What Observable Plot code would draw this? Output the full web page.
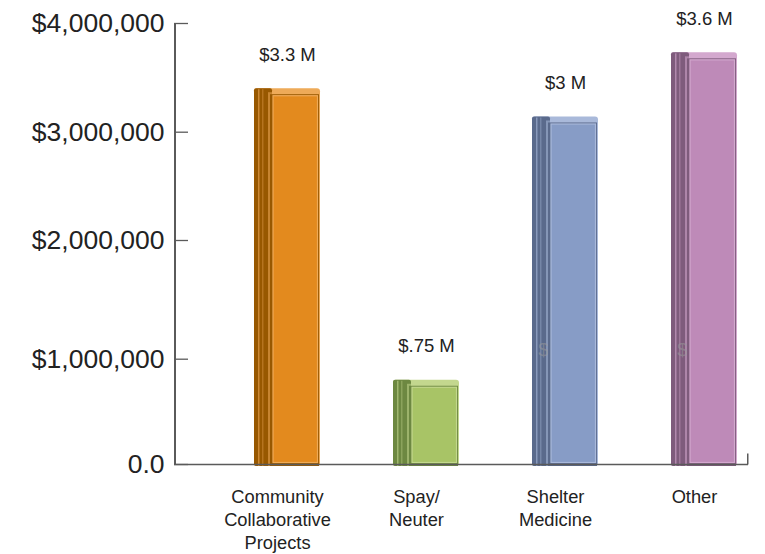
<!DOCTYPE html>
<html>
<head>
<meta charset="utf-8">
<script src="https://cdn.jsdelivr.net/npm/d3@7"></script>
<script src="https://cdn.jsdelivr.net/npm/@observablehq/plot@0.6"></script>
<style>
  html, body { margin: 0; padding: 0; background: #fff; }
</style>
</head>
<body>
<div id="chart"></div>
<script>
// ---- data ----
const categories = ["Community Collaborative Projects", "Spay/Neuter", "Shelter Medicine", "Other"];
const categoryLabels = ["Community\nCollaborative\nProjects", "Spay/\nNeuter", "Shelter\nMedicine", "Other"];
const values = [3400000, 800000, 3140000, 3730000];
const valueLabels = ["$3.3 M", "$.75 M", "$3 M", "$3.6 M"];
const faceColors = ["#e38a1e", "#a8c466", "#879cc6", "#be8ab8"];
const sideColors = ["#985800", "#6d8841", "#5a6a8c", "#7e5b7c"];
const topColors = ["#eeaa58", "#c3d78e", "#a9b9da", "#d3a8ce"];
const yTicks = [0, 1000000, 2000000, 3000000, 4000000];
const yTickLabels = ["0.0", "$1,000,000", "$2,000,000", "$3,000,000", "$4,000,000"];
// faint hidden labels visible behind two bars
const ghostCategories = ["Shelter Medicine", "Other"];
const ghostValues = [1080000, 1080000];
const ghostTexts = ["$3", "$3"];

const data = categories.map((c, i) => ({
  category: c,
  xlabel: categoryLabels[i],
  value: values[i],
  label: valueLabels[i],
  face: faceColors[i],
  side: sideColors[i],
  top: topColors[i]
}));
const ghosts = ghostCategories.map((c, i) => ({category: c, value: ghostValues[i], text: ghostTexts[i]}));

const axisColor = "#5a5a5a";
const textColor = "#222";

const chart = Plot.plot({
  width: 765,
  height: 554,
  marginLeft: 174,
  marginRight: 17,
  marginTop: 23,
  marginBottom: 90,
  style: {fontFamily: "'Liberation Sans', Arial, Helvetica, sans-serif", color: textColor, background: "#fff", overflow: "visible"},
  x: {type: "band", domain: categories, range: [253, 737], paddingInner: 0.526, paddingOuter: 0, axis: null},
  y: {type: "linear", domain: yTicks, range: [464, 358.7, 240, 131.7, 23], axis: null},
  color: {type: "identity"},
  marks: [
    // bar body (top bevel colour)
    Plot.barY(data, {x: "category", y: "value", fill: "top", rx: 3, insetBottom: -2}),
    // dark left side strip
    Plot.barY(data, {x: "category", y: "value", fill: "side", rx: 2, insetRight: 48, insetBottom: -2}),
    // transition bevel between side and face
    Plot.barY(data, {x: "category", y: "value", fill: "top", fillOpacity: 0.55, insetLeft: 14, insetRight: 48, insetTop: 4, insetBottom: -2}),
    // thin highlight lines inside side strip
    Plot.barY(data, {x: "category", y: "value", fill: "top", fillOpacity: 0.6, insetLeft: 4, insetRight: 60.5, insetTop: 1, insetBottom: -2}),
    Plot.barY(data, {x: "category", y: "value", fill: "top", fillOpacity: 0.35, insetLeft: 8, insetRight: 56.5, insetTop: 1, insetBottom: -2}),
    // faint hidden labels
    Plot.text(ghosts, {x: "category", y: "value", text: "text", dx: -17, fontSize: 18.5, fill: "#9a9a9a", fillOpacity: 0.55, lineAnchor: "middle"}),
    // dark bottom edge
    Plot.barY(data, {x: "category", y: "value", fill: "side", insetLeft: 16, insetRight: 1, insetTop: 6, insetBottom: -2}),
    // main face
    Plot.barY(data, {x: "category", y: "value", fill: "face", stroke: "top", strokeWidth: 1.2, insetLeft: 19, insetRight: 2.5, insetTop: 7.5, insetBottom: 1.5}),
    // axes lines
    Plot.frame({fill: axisColor, stroke: null, insetRight: 572.5, insetLeft: -0.5}),
    Plot.ruleY([0], {stroke: axisColor, strokeWidth: 1.5}),
    Plot.frame({fill: axisColor, stroke: null, insetLeft: 572.5, insetTop: 430}),
    // y ticks pointing inward
    Plot.ruleY(yTicks, {y: d => d, stroke: axisColor, strokeWidth: 1.3, insetRight: 560}),
    // y tick labels
    Plot.axisY({ticks: yTicks, tickFormat: d => yTickLabels[yTicks.indexOf(d)], tickSize: 0, tickPadding: 10, fontSize: 26.5, fill: textColor, label: null}),
    // value labels
    Plot.text(data, {x: "category", y: "value", text: "label", dy: -34, fontSize: 18.5, fill: textColor, lineAnchor: "middle"}),
    // category labels
    Plot.text(data, {x: "category", text: "xlabel", frameAnchor: "bottom", lineAnchor: "top", dy: 22.5, dx: -10, fontSize: 18.3, lineHeight: 1.25, fill: textColor})
  ]
});

document.getElementById("chart").appendChild(chart);
</script>
</body>
</html>
